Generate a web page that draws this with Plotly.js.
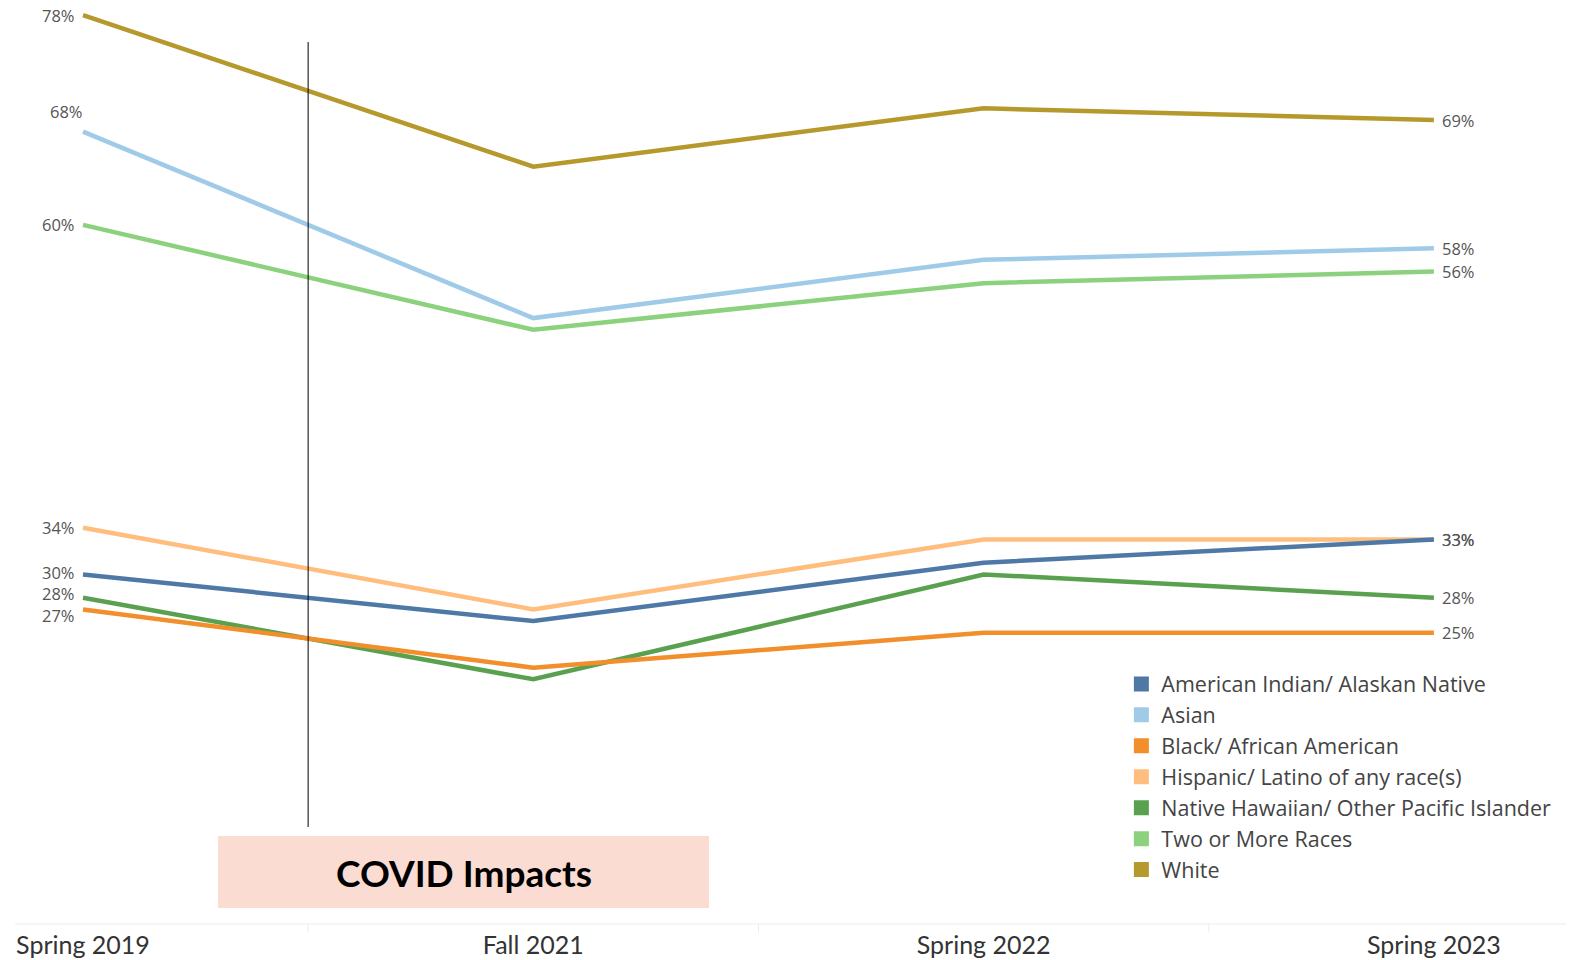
<!DOCTYPE html>
<html>
<head>
<meta charset="utf-8">
<script src="https://cdn.plot.ly/plotly-3.0.1.min.js"></script>
<style>html,body{margin:0;padding:0;background:#fff;}#chart{width:1587px;height:960px;}</style>
</head>
<body>
<div id="chart"></div>
<script>
var categories = ['Spring 2019', 'Fall 2021', 'Spring 2022', 'Spring 2023'];
var seriesNames = ['American Indian/ Alaskan Native', 'Asian', 'Black/ African American',
  'Hispanic/ Latino of any race(s)', 'Native Hawaiian/ Other Pacific Islander', 'Two or More Races', 'White'];
var americanIndian = [30, 26, 31, 33];
var asian = [68, 52, 57, 58];
var black = [27, 22, 25, 25];
var hispanic = [34, 27, 33, 33];
var nativeHawaiian = [28, 21, 30, 28];
var twoOrMore = [60, 51, 55, 56];
var white = [78, 65, 70, 69];

var seriesValues = [americanIndian, asian, black, hispanic, nativeHawaiian, twoOrMore, white];
var colors = ['#4E79A7', '#A0CBE8', '#F28E2B', '#FFBE7D', '#59A14F', '#8CD17D', '#B6992D'];
var drawOrder = [5, 1, 6, 3, 4, 2, 0];

var traces = [];
drawOrder.forEach(function (i) {
  traces.push({
    x: categories, y: seriesValues[i], type: 'scatter', mode: 'lines',
    line: {color: colors[i], width: 4.5}, showlegend: false, hoverinfo: 'skip'
  });
});
seriesNames.forEach(function (n, i) {
  traces.push({
    x: [null], y: [null], type: 'scatter', mode: 'markers', name: n,
    marker: {symbol: 'square', size: 15, color: colors[i]}, showlegend: true
  });
});

var labelFont = {family: '"Open Sans", sans-serif', size: 16.5, color: '#555'};
// left-label pixel nudges (label placement only): index by series
var leftShift = [1.5, 20, -6, 0, 4, 0, 0];
var annotations = [];
seriesValues.forEach(function (vals, i) {
  var first = vals[0], last = vals[vals.length - 1];
  annotations.push({
    x: categories[0], y: first, xref: 'x', yref: 'y', text: first + '%',
    showarrow: false, xanchor: 'right', yanchor: 'middle', borderpad: 0,
    xshift: i === 1 ? 1 : -7, yshift: leftShift[i], font: labelFont
  });
  annotations.push({
    x: categories[categories.length - 1], y: last, xref: 'x', yref: 'y', text: last + '%',
    showarrow: false, xanchor: 'left', yanchor: 'middle', borderpad: 0, xshift: 7, font: labelFont
  });
});
annotations.push({
  x: 0.2921, y: 0.056, xref: 'paper', yref: 'paper', text: '<b>COVID Impacts</b>',
  showarrow: false, xanchor: 'center', yanchor: 'middle',
  font: {family: 'Lato, sans-serif', size: 37, color: '#000'}
});

var shapes = [
  {type: 'rect', xref: 'paper', yref: 'paper', x0: 0.1374, x1: 0.4468, y0: 0.0173, y1: 0.0952,
    fillcolor: '#FBDCD3', line: {width: 0}, layer: 'below'},
  {type: 'line', xref: 'x', yref: 'paper', x0: 0.5, x1: 0.5, y0: 0.105, y1: 0.9545,
    line: {color: '#000', width: 1}},
  {type: 'line', xref: 'paper', yref: 'paper', x0: 0.0095, x1: 0.9868, y0: 0, y1: 0,
    line: {color: '#ececec', width: 1}}
];
[0.5, 1.5, 2.5].forEach(function (p) {
  shapes.push({type: 'line', xref: 'x', yref: 'paper', x0: p, x1: p, y0: 0, y1: -0.009,
    line: {color: '#ececec', width: 1}});
});

var layout = {
  width: 1587, height: 960,
  margin: {l: 0, r: 0, t: 0, b: 36},
  paper_bgcolor: '#fff', plot_bgcolor: '#fff',
  xaxis: {type: 'category', categoryarray: categories, range: [-0.1843, 3.340],
    showgrid: false, zeroline: false, showline: false, ticks: '', automargin: false,
    ticklabelstandoff: 4,
    tickfont: {family: 'Lato, sans-serif', size: 25, color: '#333'}},
  yaxis: {range: [0, 79.3], visible: false, fixedrange: true},
  showlegend: true,
  legend: {x: 0.7066, y: 0.282, xanchor: 'left', yanchor: 'top', bgcolor: 'rgba(0,0,0,0)',
    font: {family: '"Open Sans", sans-serif', size: 21.5, color: '#444'}, tracegroupgap: 0,
    itemclick: false},
  annotations: annotations,
  shapes: shapes
};

Plotly.newPlot('chart', traces, layout, {displayModeBar: false, staticPlot: true});
</script>
</body>
</html>
